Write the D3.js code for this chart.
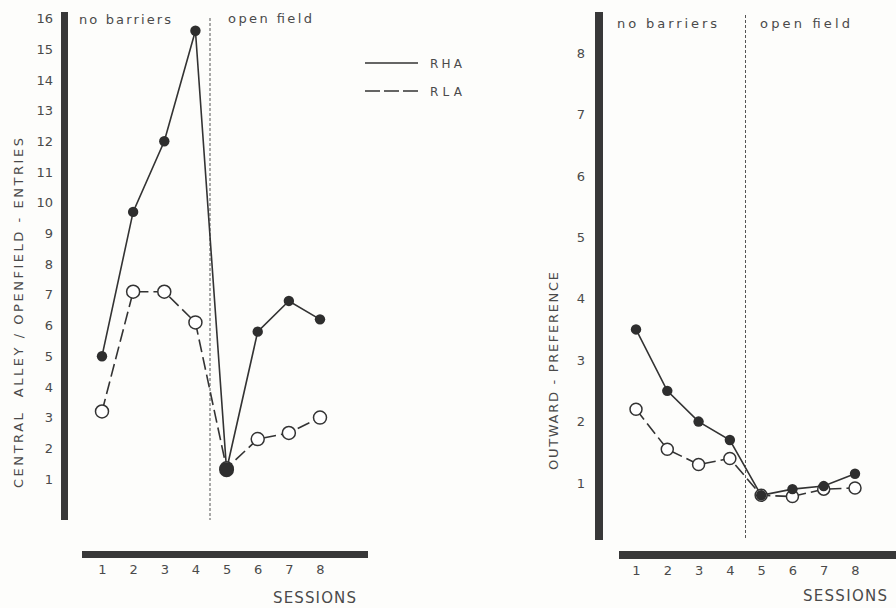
<!DOCTYPE html>
<html>
<head>
<meta charset="utf-8">
<script src="https://cdn.jsdelivr.net/npm/d3@7"></script>
<style>
  html, body { margin: 0; padding: 0; background: #fdfdfb; }
  svg { display: block; }
  text { font-family: "DejaVu Sans", sans-serif; fill: #4a4a4a; }
</style>
</head>
<body>
<svg id="chart" width="896" height="608"></svg>
<script>
// ---- data ----
const sessions = [1, 2, 3, 4, 5, 6, 7, 8];
const rhaEntries = [5.0, 9.7, 12.0, 15.6, 1.3, 5.8, 6.8, 6.2];
const rlaEntries = [3.2, 7.1, 7.1, 6.1, 1.35, 2.3, 2.5, 3.0];
const rhaOutward = [3.5, 2.5, 2.0, 1.7, 0.8, 0.9, 0.95, 1.15];
const rlaOutward = [2.2, 1.55, 1.3, 1.4, 0.8, 0.78, 0.9, 0.92];
const leftTicks = [1, 2, 3, 4, 5, 6, 7, 8, 9, 10, 11, 12, 13, 14, 15, 16];
const rightTicks = [1, 2, 3, 4, 5, 6, 7, 8];
const seriesNames = ["RHA", "RLA"];
const phaseLabels = ["no barriers", "open field"];
const leftYLabel = "CENTRAL  ALLEY / OPENFIELD - ENTRIES";
const rightYLabel = "OUTWARD - PREFERENCE";
const xLabel = "SESSIONS";

const svg = d3.select("#chart");
const ink = "#333";

function panel(cfg) {
  const g = svg.append("g");
  const x = d3.scaleLinear().domain([1, 8]).range(cfg.xRange);
  const y = d3.scaleLinear().domain(cfg.yDomain).range(cfg.yRange);

  // thick axis bars
  g.append("rect").attr("x", cfg.yBar.x).attr("y", cfg.yBar.y0)
    .attr("width", cfg.yBar.w).attr("height", cfg.yBar.y1 - cfg.yBar.y0).attr("fill", "#383838");
  g.append("rect").attr("x", cfg.xBar.x0).attr("y", cfg.xBar.y)
    .attr("width", cfg.xBar.x1 - cfg.xBar.x0).attr("height", cfg.xBar.h).attr("fill", "#383838");

  // y axis labels
  const ya = g.append("g").attr("transform", `translate(${cfg.yBar.x},0)`)
    .call(d3.axisLeft(y).tickValues(cfg.ticks).tickSize(0).tickPadding(cfg.yPad).tickFormat(d3.format("d")));
  ya.select(".domain").remove();
  ya.selectAll("text").attr("font-family", "DejaVu Sans").attr("font-size", 13).attr("fill", "#555");

  // x axis labels
  const xa = g.append("g").attr("transform", `translate(0,${cfg.xBar.y + cfg.xBar.h})`)
    .call(d3.axisBottom(x).tickValues(sessions).tickSize(0).tickPadding(7).tickFormat(d3.format("d")));
  xa.select(".domain").remove();
  xa.selectAll("text").attr("font-family", "DejaVu Sans").attr("font-size", 13).attr("fill", "#555");

  // separator
  const sx = (x(4) + x(5)) / 2 + cfg.sepShift;
  g.append("line").attr("x1", sx).attr("x2", sx).attr("y1", cfg.sepY[0]).attr("y2", cfg.sepY[1])
    .attr("stroke", "#555").attr("stroke-width", 1).attr("stroke-dasharray", "3,2");

  // phase labels
  g.append("text").attr("x", cfg.phase[0][0]).attr("y", cfg.phase[0][1]).attr("font-size", 13)
    .attr("textLength", cfg.phase[0][2]).attr("lengthAdjust", "spacing").text(phaseLabels[0]);
  g.append("text").attr("x", cfg.phase[1][0]).attr("y", cfg.phase[1][1]).attr("font-size", 13)
    .attr("textLength", cfg.phase[1][2]).attr("lengthAdjust", "spacing").text(phaseLabels[1]);

  // y title
  g.append("text").attr("transform", `translate(${cfg.yTitle[0]},${cfg.yTitle[1]}) rotate(-90)`)
    .attr("text-anchor", "middle").attr("font-size", 13).style("white-space", "pre")
    .attr("textLength", cfg.yTitle[2]).attr("lengthAdjust", "spacing").text(cfg.yTitleText);

  // x title
  g.append("text").attr("x", cfg.xTitle[0]).attr("y", cfg.xTitle[1]).attr("font-size", 15)
    .attr("textLength", cfg.xTitle[2]).attr("lengthAdjust", "spacing").text(xLabel);

  // lines
  const line = d3.line().x((d, i) => x(sessions[i])).y(d => y(d));
  g.append("path").datum(cfg.rla).attr("d", line).attr("fill", "none")
    .attr("stroke", ink).attr("stroke-width", 1.6).attr("stroke-dasharray", "13,5");
  g.append("path").datum(cfg.rha).attr("d", line).attr("fill", "none")
    .attr("stroke", ink).attr("stroke-width", 1.6);

  // markers
  g.selectAll(".open").data(cfg.rla).join("circle").attr("class", "open")
    .attr("cx", (d, i) => x(sessions[i])).attr("cy", d => y(d)).attr("r", cfg.rOpen)
    .attr("fill", "#fff").attr("stroke", ink).attr("stroke-width", 1.5);
  g.selectAll(".filled").data(cfg.rha).join("circle").attr("class", "filled")
    .attr("cx", (d, i) => x(sessions[i])).attr("cy", d => y(d))
    .attr("r", (d, i) => i === 4 && cfg.bigFifth ? 7.5 : 5.2)
    .attr("fill", "#2e2e2e");
  return g;
}

panel({
  xRange: [102, 320], yDomain: [1, 16], yRange: [479, 18.5], ticks: leftTicks,
  yBar: { x: 61, w: 7, y0: 12, y1: 520 }, xBar: { x0: 82, x1: 368, y: 551, h: 7 },
  yPad: 8, sepShift: -1, sepY: [18, 520],
  phase: [[79, 24, 92], [228, 23, 84]],
  yTitle: [23, 313, 350], yTitleText: leftYLabel,
  xTitle: [273, 603, 83],
  rha: rhaEntries, rla: rlaEntries, rOpen: 6.5, bigFifth: true
});

panel({
  xRange: [636, 855], yDomain: [1, 8], yRange: [483, 53], ticks: rightTicks,
  yBar: { x: 595, w: 8, y0: 12, y1: 540 }, xBar: { x0: 619, x1: 896, y: 551, h: 8 },
  yPad: 10, sepShift: 0, sepY: [15, 540],
  phase: [[617, 28, 100], [760, 28, 90]],
  yTitle: [558, 371, 198], yTitleText: rightYLabel,
  xTitle: [803, 601, 84],
  rha: rhaOutward, rla: rlaOutward, rOpen: 6, bigFifth: false
});

// legend
const lg = svg.append("g");
seriesNames.forEach((name, i) => {
  const ly = 63 + i * 28;
  lg.append("line").attr("x1", 365).attr("x2", 418).attr("y1", ly).attr("y2", ly)
    .attr("stroke", ink).attr("stroke-width", 1.5)
    .attr("stroke-dasharray", i === 1 ? "15,4" : null);
  lg.append("text").attr("x", 430).attr("y", ly + 4.5).attr("font-size", 12)
    .attr("textLength", 32).attr("lengthAdjust", "spacing").text(name);
});
</script>
</body>
</html>
